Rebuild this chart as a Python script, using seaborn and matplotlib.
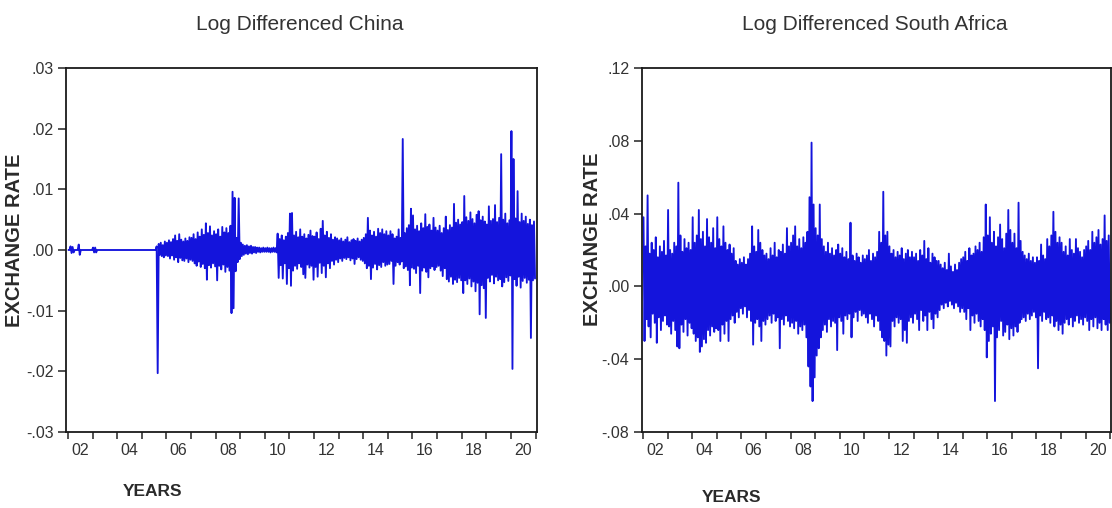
import matplotlib
matplotlib.use("Agg")
import matplotlib.pyplot as plt
import numpy as np
import pandas as pd
import seaborn as sns

W, H = 1112, 508
LINE = "#1414dc"
TEXT = "#333333"

# monthly high / low of the daily log differences, Jan 2002 .. Dec 2020
# (in thousandths, one month at a time)
china_hi = [
    0, 0.6, 0.5, 0, 0, 0.9, 0, 0, 0, 0, 0, 0,                       # 2002
    0.4, 0.4, 0, 0, 0, 0, 0, 0, 0, 0, 0, 0,                         # 2003
    0, 0, 0, 0, 0, 0, 0, 0, 0, 0, 0, 0,                             # 2004
    0, 0, 0, 0, 0, 0, 0, 0.6, 1.0, 1.2, 0.8, 1.4,                   # 2005
    1.2, 1.6, 1.3, 1.8, 2.4, 1.5, 2.6, 1.7, 1.4, 1.9, 1.5, 2.1,     # 2006
    2.0, 2.6, 1.8, 2.9, 2.2, 3.4, 2.5, 4.4, 2.8, 3.9, 2.4, 3.1,     # 2007
    2.6, 3.4, 2.2, 3.8, 2.9, 3.6, 2.8, 4.0, 9.6, 8.6, 2.0, 8.5,     # 2008
    1.2, 0.9, 0.7, 0.8, 0.6, 0.7, 0.5, 0.5, 0.4, 0.4, 0.3, 0.4,     # 2009
    0.3, 0.4, 0.3, 0.3, 0.4, 0.3, 2.7, 1.8, 2.4, 1.6, 2.2, 2.8,     # 2010
    6.0, 6.1, 2.4, 3.0, 2.1, 3.4, 2.2, 2.6, 1.9, 2.5, 3.2, 2.3,     # 2011
    2.2, 2.9, 1.8, 3.5, 4.8, 2.4, 3.0, 2.0, 2.6, 1.7, 2.1, 1.9,     # 2012
    1.6, 1.9, 1.4, 1.7, 2.1, 1.3, 1.6, 1.8, 1.5, 1.9, 1.4, 1.7,     # 2013
    2.0, 2.6, 5.3, 3.2, 2.4, 3.0, 2.2, 3.5, 2.8, 3.4, 2.6, 3.1,     # 2014
    2.4, 3.1, 2.6, 1.9, 2.2, 3.4, 2.0, 18.3, 2.8, 3.6, 4.1, 6.8,    # 2015
    5.7, 3.4, 4.0, 3.1, 4.4, 3.6, 5.9, 3.8, 4.2, 3.2, 5.3, 3.7,     # 2016
    3.2, 4.0, 2.8, 3.6, 5.5, 3.3, 4.1, 3.7, 7.6, 4.5, 5.0, 4.2,     # 2017
    4.6, 8.9, 5.4, 4.8, 6.2, 5.1, 4.4, 5.8, 6.4, 4.9, 5.5, 4.7,     # 2018
    4.2, 7.2, 4.8, 5.1, 7.4, 4.6, 5.3, 15.8, 5.0, 6.0, 4.4, 4.9,    # 2019
    19.6, 15.0, 5.2, 9.7, 4.6, 6.0, 4.8, 5.5, 4.3, 5.0, 4.1, 4.7,   # 2020
]
china_lo = [
    0, -0.5, -0.4, 0, 0, -0.8, 0, 0, 0, 0, 0, 0,
    -0.4, -0.4, 0, 0, 0, 0, 0, 0, 0, 0, 0, 0,
    0, 0, 0, 0, 0, 0, 0, 0, 0, 0, 0, 0,
    0, 0, 0, 0, 0, 0, 0, -20.3, -0.8, -1.0, -1.2, -0.9,
    -1.0, -1.4, -0.9, -1.6, -1.2, -2.0, -1.3, -1.7, -1.8, -1.4, -2.0, -1.6,
    -1.8, -2.2, -2.6, -1.9, -2.8, -2.3, -3.0, -4.9, -2.5, -2.9, -2.2, -2.7,
    -5.0, -2.6, -3.2, -2.4, -3.6, -2.8, -3.4, -10.4, -9.6, -3.5, -2.0, -1.5,
    -1.0, -0.8, -0.6, -0.7, -0.5, -0.6, -0.4, -0.5, -0.3, -0.4, -0.3, -0.3,
    -0.3, -0.3, -0.4, -0.3, -0.3, -0.4, -4.6, -2.5, -4.7, -2.2, -5.6, -3.0,
    -5.9, -3.4, -2.6, -3.1, -2.2, -2.8, -4.0, -4.6, -2.4, -2.9, -2.6, -4.9,
    -2.8, -4.4, -2.1, -3.8, -2.6, -4.5, -2.2, -3.0, -1.8, -2.4, -1.6, -2.0,
    -1.4, -1.8, -1.3, -1.5, -1.2, -1.7, -1.4, -2.3, -1.5, -1.2, -1.6, -1.8,
    -2.2, -3.0, -2.6, -4.8, -2.9, -2.3, -3.2, -2.5, -2.8, -2.0, -2.6, -2.4,
    -2.3, -1.8, -5.6, -2.6, -2.0, -2.4, -1.9, -3.0, -2.7, -3.3, -5.8, -2.9,
    -3.1, -3.8, -2.6, -7.1, -3.4, -2.9, -3.6, -4.5, -3.0, -2.7, -3.3, -2.8,
    -2.6, -3.4, -4.3, -3.0, -4.8, -5.2, -4.4, -5.6, -4.9, -5.3, -4.6, -5.0,
    -7.1, -5.0, -5.6, -4.7, -6.0, -5.2, -6.8, -5.4, -10.6, -5.8, -6.3, -11.2,
    -4.6, -5.2, -4.1, -5.5, -4.4, -5.0, -4.8, -6.0, -5.3, -4.5, -5.1, -4.2,
    -19.6, -4.8, -5.9, -4.4, -6.2, -5.1, -4.6, -5.4, -4.9, -14.5, -5.0, -4.7,
]

sa_hi = [
    38, 22, 50, 18, 24, 20, 27, 16, 22, 19, 25, 17,     # 2002
    42, 20, 18, 24, 22, 57, 28, 19, 26, 21, 24, 20,     # 2003
    38, 24, 28, 42, 26, 30, 22, 37, 27, 24, 32, 21,     # 2004
    38, 26, 22, 33, 24, 20, 23, 18, 21, 14, 12, 15,     # 2005
    13, 16, 12, 15, 18, 33, 22, 19, 31, 24, 20, 17,     # 2006
    18, 15, 21, 17, 24, 16, 20, 19, 23, 18, 32, 22,     # 2007
    24, 28, 33, 22, 26, 21, 27, 24, 30, 49, 79, 45,     # 2008
    32, 28, 45, 26, 22, 19, 24, 18, 21, 17, 20, 23,     # 2009
    18, 21, 16, 19, 15, 35, 17, 14, 18, 16, 13, 17,     # 2010
    15, 17, 20, 14, 18, 16, 19, 30, 24, 52, 28, 30,     # 2011
    22, 18, 20, 16, 19, 17, 21, 15, 18, 20, 16, 19,     # 2012
    16, 18, 14, 20, 17, 25, 15, 21, 13, 18, 16, 14,     # 2013
    14, 12, 10, 13, 9, 18, 11, 8, 12, 9, 13, 15,        # 2014
    16, 19, 14, 21, 17, 18, 22, 20, 24, 19, 27, 45,     # 2015
    28, 38, 24, 30, 22, 27, 34, 26, 21, 29, 42, 31,     # 2016
    24, 29, 21, 46, 25, 19, 17, 15, 18, 14, 16, 13,     # 2017
    16, 14, 23, 17, 15, 26, 22, 28, 41, 30, 24, 27,     # 2018
    24, 19, 22, 17, 26, 20, 18, 26, 21, 19, 16, 20,     # 2019
    22, 25, 20, 30, 24, 27, 31, 23, 26, 39, 25, 28,     # 2020
]
sa_lo = [
    -30, -18, -22, -28, -15, -20, -31, -17, -24, -19, -16, -21,
    -22, -26, -19, -24, -33, -34, -21, -25, -18, -27, -20, -23,
    -26, -30, -28, -36, -33, -29, -31, -24, -27, -22, -25, -23,
    -24, -30, -21, -26, -19, -30, -18, -16, -20, -14, -17, -12,
    -15, -11, -17, -13, -19, -32, -20, -18, -22, -30, -19, -21,
    -18, -16, -20, -15, -19, -17, -34, -18, -21, -16, -19, -22,
    -20, -23, -19, -26, -22, -24, -21, -28, -44, -55, -63, -50,
    -38, -34, -28, -24, -21, -25, -18, -22, -19, -20, -35, -17,
    -19, -26, -16, -18, -15, -28, -17, -14, -19, -13, -16, -15,
    -17, -20, -15, -18, -22, -16, -19, -24, -28, -30, -38, -32,
    -33, -19, -22, -17, -20, -18, -30, -24, -31, -19, -17, -20,
    -15, -18, -24, -13, -19, -16, -24, -14, -18, -23, -15, -17,
    -13, -10, -12, -9, -11, -8, -10, -12, -9, -11, -14, -12,
    -14, -18, -12, -24, -16, -20, -15, -19, -22, -18, -24, -39,
    -30, -26, -22, -63, -28, -24, -19, -27, -25, -21, -29, -23,
    -27, -22, -25, -20, -18, -17, -19, -15, -18, -16, -14, -17,
    -45, -16, -19, -14, -18, -17, -20, -16, -22, -19, -24, -21,
    -26, -20, -18, -21, -17, -22, -19, -16, -20, -18, -21, -17,
    -19, -24, -18, -22, -17, -23, -20, -24, -18, -21, -24, -20,
]

year_labels = ["02", "04", "06", "08", "10", "12", "14", "16", "18", "20"]
china_ticks = [-0.03, -0.02, -0.01, 0.0, 0.01, 0.02, 0.03]
china_tick_labels = ["-.03", "-.02", "-.01", ".00", ".01", ".02", ".03"]
sa_ticks = [-0.08, -0.04, 0.0, 0.04, 0.08, 0.12]
sa_tick_labels = ["-.08", "-.04", ".00", ".04", ".08", ".12"]


def monthly_frame(hi, lo):
    # high and low of each month, one after the other
    rows = []
    for i, (h, l) in enumerate(zip(hi, lo)):
        start = 2002 + i / 12
        rows.append((start + 0.25 / 12, h / 1000))
        rows.append((start + 0.75 / 12, l / 1000))
    return pd.DataFrame(rows, columns=["year", "value"])


def style_axis(ax, xlim, ylim, ticks, tick_labels):
    ax.set_xlim(*xlim)
    ax.set_ylim(*ylim)
    ax.set_xticks(np.arange(2002, 2022))
    ax.set_xticklabels([])
    ax.set_xticks(np.arange(2002.5, 2021, 2), minor=True)
    ax.set_xticklabels(year_labels, minor=True)
    ax.set_yticks(ticks)
    ax.set_yticklabels(tick_labels)
    ax.tick_params(axis="x", which="major", length=5, width=1.1,
                   direction="out", color="#222222")
    ax.tick_params(axis="x", which="minor", length=0, pad=8,
                   labelsize=11.5, labelcolor=TEXT)
    ax.tick_params(axis="y", length=6, width=1.1, pad=3,
                   labelsize=11.5, labelcolor=TEXT, color="#222222")
    for s in ax.spines.values():
        s.set_visible(True)
        s.set_linewidth(1.3)
        s.set_color("#1a1a1a")
    ax.set_xlabel("")
    ax.set_ylabel("")


sns.set_style("ticks")
plt.rcParams["font.family"] = ["Liberation Sans", "DejaVu Sans"]

fig = plt.figure(figsize=(W / 100, H / 100), dpi=100)
ax1 = fig.add_axes([66 / W, 1 - 432 / H, 471 / W, 364 / H])
ax2 = fig.add_axes([642 / W, 1 - 432 / H, 469 / W, 364 / H])

china = monthly_frame(china_hi, china_lo)
sa = monthly_frame(sa_hi, sa_lo)

sns.lineplot(data=china, x="year", y="value", ax=ax1, color=LINE,
             linewidth=1.35, estimator=None, sort=False)
sns.lineplot(data=sa, x="year", y="value", ax=ax2, color=LINE,
             linewidth=1.35, estimator=None, sort=False)

style_axis(ax1, (2001.92, 2021.06), (-0.03, 0.03), china_ticks, china_tick_labels)
style_axis(ax2, (2001.96, 2021.03), (-0.08, 0.12), sa_ticks, sa_tick_labels)

fig.text(300 / W, 1 - 25 / H, "Log Differenced China", ha="center",
         va="center", fontsize=15, color=TEXT)
fig.text(875 / W, 1 - 25 / H, "Log Differenced South Africa", ha="center",
         va="center", fontsize=15, color=TEXT)

fig.text(15 / W, 1 - 240 / H, "EXCHANGE RATE", rotation=90, ha="center",
         va="center", fontsize=14.5, fontweight="bold", color="#2a2a2a")
fig.text(592 / W, 1 - 239 / H, "EXCHANGE RATE", rotation=90, ha="center",
         va="center", fontsize=14.5, fontweight="bold", color="#2a2a2a")
fig.text(153 / W, 1 - 492 / H, "YEARS", ha="center", va="center",
         fontsize=12.5, fontweight="bold", color="#2a2a2a")
fig.text(732 / W, 1 - 498 / H, "YEARS", ha="center", va="center",
         fontsize=12.5, fontweight="bold", color="#2a2a2a")

fig.savefig("out.png", dpi=100, facecolor="white")
